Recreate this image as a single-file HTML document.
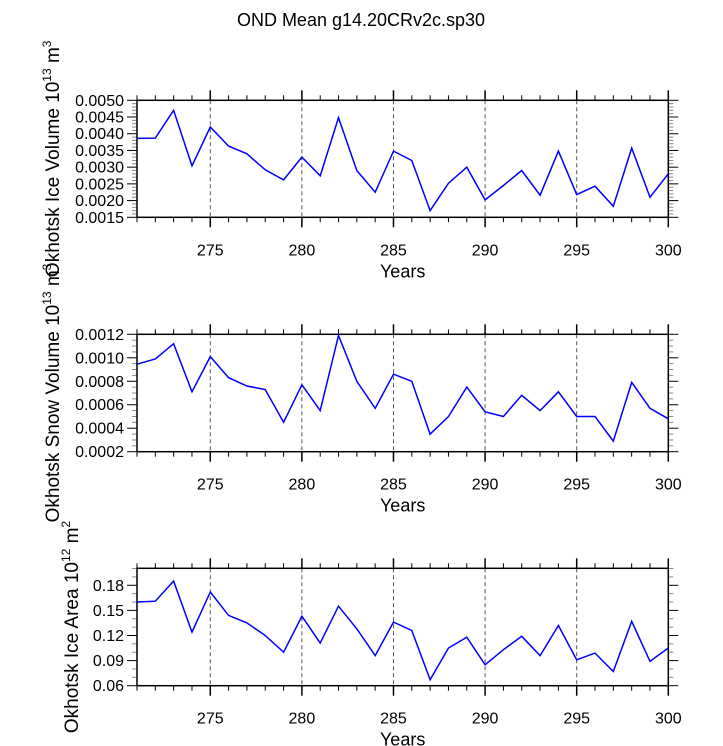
<!DOCTYPE html>
<html><head><meta charset="utf-8"><style>
body{margin:0;background:#fff}
svg{display:block;font-family:"Liberation Sans",sans-serif}
</style></head><body>
<svg id="chart" width="723" height="746">
<text x="361" y="26" text-anchor="middle" font-size="18">OND Mean g14.20CRv2c.sp30</text>
</svg>
<script>
const years = [271,272,273,274,275,276,277,278,279,280,281,282,283,284,285,286,287,288,289,290,291,292,293,294,295,296,297,298,299,300];
const iceVolume = [0.00386,0.00387,0.0047,0.00304,0.0042,0.00363,0.0034,0.00292,0.00262,0.0033,0.00274,0.00448,0.0029,0.00225,0.00348,0.0032,0.0017,0.00252,0.003,0.00202,0.00245,0.0029,0.00216,0.00348,0.00218,0.00243,0.00183,0.00357,0.0021,0.0028];
const snowVolume = [0.000945,0.00099,0.00112,0.00071,0.00101,0.00083,0.00076,0.00073,0.00045,0.00077,0.00055,0.00119,0.0008,0.00057,0.00086,0.0008,0.00035,0.0005,0.00075,0.00054,0.0005,0.00068,0.00055,0.00071,0.0005,0.0005,0.00029,0.00079,0.00057,0.00048];
const iceArea = [0.16,0.161,0.185,0.124,0.172,0.144,0.135,0.12,0.1,0.143,0.111,0.155,0.128,0.096,0.136,0.126,0.067,0.105,0.118,0.085,0.103,0.119,0.096,0.132,0.091,0.099,0.077,0.137,0.089,0.105];
const xTicks = [275,280,285,290,295,300];
const ticks1 = ["0.0015","0.0020","0.0025","0.0030","0.0035","0.0040","0.0045","0.0050"];
const ticks2 = ["0.0002","0.0004","0.0006","0.0008","0.0010","0.0012"];
const ticks3 = ["0.06","0.09","0.12","0.15","0.18"];

const NS="http://www.w3.org/2000/svg";
const svg=document.getElementById('chart');
function mk(tag,attrs,parent){const e=document.createElementNS(NS,tag);for(const k in attrs)e.setAttribute(k,attrs[k]);(parent||svg).appendChild(e);return e;}
const L=137,R=668.3;
const xs=v=>L+(v-271)/(300-271)*(R-L);

function panel(name,top,bot,ymin,ymax,vals,ticks,minorStep,titleMain,exp,unitExp,titleX){
  const g=mk('g',{});
  
  
  const ys=v=>bot-(v-ymin)/(ymax-ymin)*(bot-top);
  xTicks.forEach(t=>{if(t<300){const l=mk('line',{x1:xs(t),x2:xs(t),y1:top,y2:bot,stroke:'#555','stroke-width':1,'stroke-dasharray':'4,3'},g);
    }});
  for(let yv=271;yv<=300;yv++){const major=yv%5==0;const len=major?10:5;
    mk('line',{x1:xs(yv),x2:xs(yv),y1:bot,y2:bot+len,stroke:'#000','stroke-width':major?1.5:1},g);
    mk('line',{x1:xs(yv),x2:xs(yv),y1:top,y2:top-len,stroke:'#000','stroke-width':major?1.5:1},g);}
  xTicks.forEach(t=>{const tx=mk('text',{x:xs(t),y:bot+38,'text-anchor':'middle','font-size':16},g);tx.textContent=t;
    });
  const xt=mk('text',{x:(L+R)/2,y:bot+60,'text-anchor':'middle','font-size':18},g);xt.textContent='Years';
  
  const majStep=parseFloat(ticks[1])-parseFloat(ticks[0]);
  for(let v=ymin;v<=ymax+1e-12;v+=minorStep){const y=ys(v);
    const isMaj=Math.abs(((v-parseFloat(ticks[0]))/majStep)-Math.round((v-parseFloat(ticks[0]))/majStep))<1e-6 && v>=parseFloat(ticks[0])-1e-12;
    const len=isMaj?10:5;
    mk('line',{x1:L-len,x2:L,y1:y,y2:y,stroke:isMaj?'#000':'#888','stroke-width':1},g);
    mk('line',{x1:R,x2:R+len,y1:y,y2:y,stroke:isMaj?'#000':'#888','stroke-width':1},g);}
  ticks.forEach(t=>{const y=ys(parseFloat(t));const tx=mk('text',{x:L-13,y:y+5.5,'text-anchor':'end','font-size':16},g);tx.textContent=t;
    });
  mk('rect',{x:L,y:top,width:R-L,height:bot-top,fill:'none',stroke:'#000','stroke-width':1.5},g);
  const pts=years.map((yr,i)=>xs(yr).toFixed(1)+','+ys(vals[i]).toFixed(1)).join(' ');
  const pl=mk('polyline',{points:pts,fill:'none',stroke:'#0000ff','stroke-width':1.5},g);
  
  const cy=(top+bot)/2;
  const tt=mk('text',{x:titleX,y:cy,'text-anchor':'middle','font-size':19,transform:'rotate(-90 '+titleX+' '+cy+')'},g);
  
  tt.appendChild(document.createTextNode(titleMain+' 10'));
  const s1=mk('tspan',{'font-size':12,dy:-8},tt);s1.textContent=exp;
  const s2=mk('tspan',{dy:8},tt);s2.textContent=' m';
  const s3=mk('tspan',{'font-size':12,dy:-8},tt);s3.textContent=unitExp;
}
panel('ice-volume',100.3,217.3,0.0015,0.0050,iceVolume,ticks1,0.0001,'Okhotsk Ice Volume','13','3',59);
panel('snow-volume',334.3,451.7,0.0002,0.0012,snowVolume,ticks2,0.00005,'Okhotsk Snow Volume','13','3',59);
panel('ice-area',568.3,685.7,0.06,0.2003,iceArea,ticks3,0.01,'Okhotsk Ice Area','12','2',78);
</script>
</body></html>
